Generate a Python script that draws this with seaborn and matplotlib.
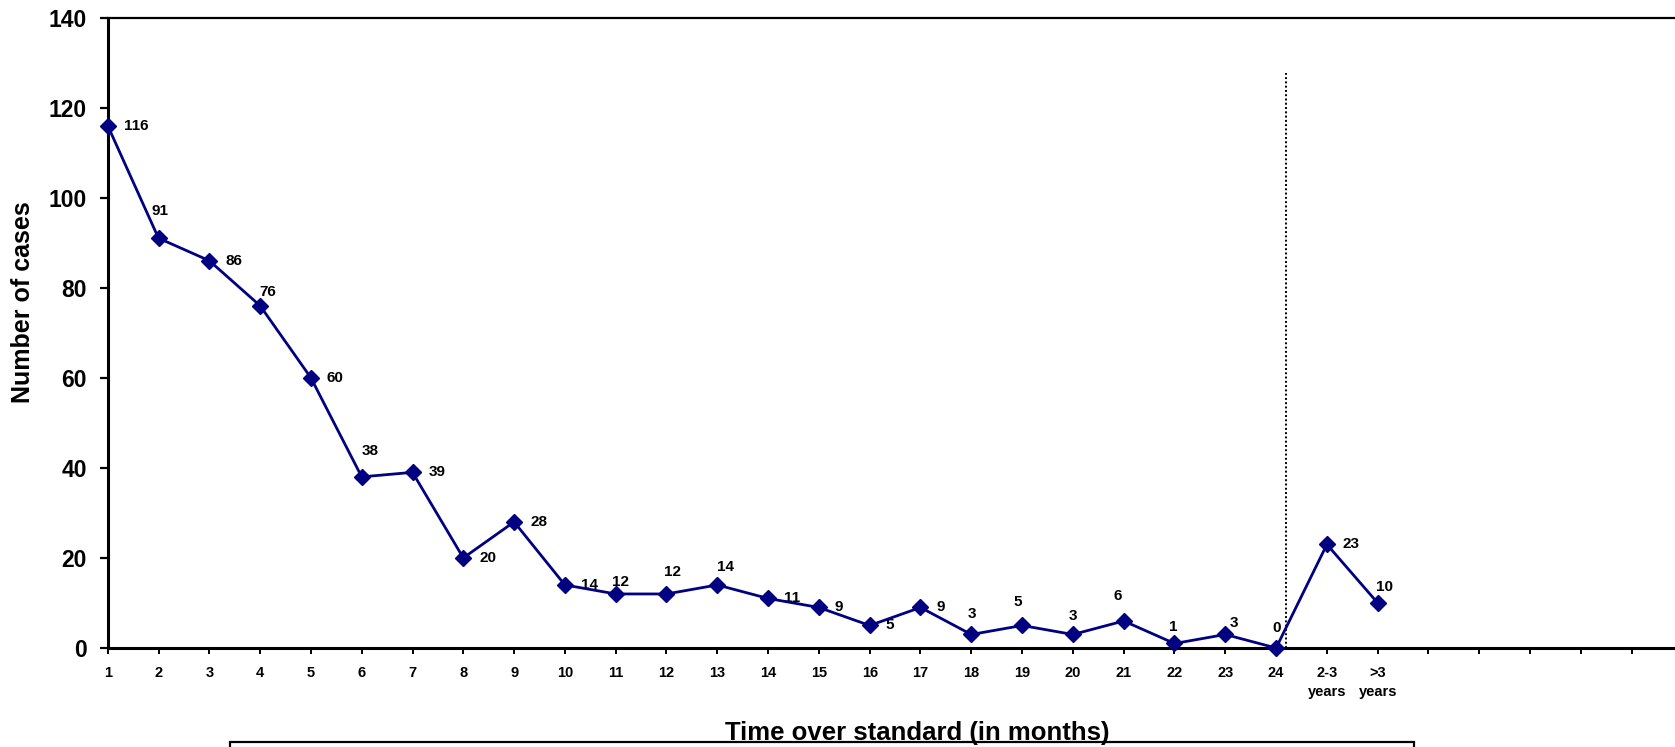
import numpy as np
import pandas as pd
import matplotlib
matplotlib.use("Agg")
import matplotlib.pyplot as plt
from matplotlib.patches import Rectangle
import seaborn as sns

# ---- data ----
categories = [str(i) for i in range(1, 25)] + ["2-3\nyears", ">3\nyears"]
cases = [116, 91, 86, 76, 60, 38, 39, 20, 28, 14, 12, 12, 14, 11, 9, 5, 9, 3, 5, 3, 6, 1, 3, 0, 23, 10]
y_ticks = [0, 20, 40, 60, 80, 100, 120, 140]
extra_empty_ticks = 6
divider_pos = 23.2      # dotted separator between "24" and "2-3 years"
divider_top = 127.7

# label placement (pixels): None -> right of marker, else (dx, dy) centred
label_offsets = [None, (1, 27), None, (8, 14), None, (8, 26), None, None, None, None,
                 (5, 12), (6, 22), (8, 18), None, None, None, None, (1, 20), (-4, 23),
                 (0, 18), (-6, 25), (-1, 16), (9, 11), (1, 20), None, (7, 16)]

sns.set_style("white")
plt.rcParams['font.family'] = ['Liberation Sans', 'DejaVu Sans']
plt.rcParams['font.weight'] = 'bold'
plt.rcParams['text.color'] = 'black'
plt.rcParams['axes.labelcolor'] = 'black'
plt.rcParams['xtick.color'] = 'black'
plt.rcParams['ytick.color'] = 'black'

W, H = 1675, 747
fig = plt.figure(figsize=(W / 100, H / 100), dpi=100)
left_px, bottom_px, top_px = 107.7, 648.0, 17.5
step_px = 50.8
n_slots = len(categories) + extra_empty_ticks
xmax = n_slots + 0.2
ax = fig.add_axes([left_px / W, (H - bottom_px) / H, xmax * step_px / W, (bottom_px - top_px) / H])

navy = "#000080"
df = pd.DataFrame({"pos": np.arange(len(cases)), "cases": cases})
sns.lineplot(data=df, x="pos", y="cases", ax=ax, color=navy, lw=2.0, marker="D",
             markersize=8.3, markeredgecolor=navy, markeredgewidth=1, zorder=5)
for ln in ax.lines:
    ln.set_clip_on(False)

ax.set_xlim(0, xmax)
ax.set_ylim(0, 140)
ax.set_yticks(y_ticks)
ax.set_yticklabels([str(v) for v in y_ticks], fontsize=16.5, fontweight='bold', color='black')
ax.set_xticks(np.arange(n_slots))
ax.set_xticklabels(categories + [""] * extra_empty_ticks, fontsize=10.5, fontweight='bold', color='black')
for t in ax.get_xticklabels():
    t.set_linespacing(1.45)
    t.set_multialignment('center')
ax.set_xlabel("")
ax.set_ylabel("")

ax.tick_params(axis='y', direction='out', length=6, width=1.6, pad=9, left=True, colors='black')
ax.tick_params(axis='x', direction='out', length=4, width=1.4, pad=9, bottom=True, colors='black')

for side in ['left', 'bottom']:
    ax.spines[side].set_linewidth(2.2)
    ax.spines[side].set_color('black')
ax.spines['top'].set_linewidth(1.6)
ax.spines['top'].set_color('black')
ax.spines['right'].set_visible(False)
ax.grid(False)

# dotted separator
ax.plot([divider_pos, divider_pos], [0, divider_top], color='black', lw=1.4,
        linestyle=(0, (1, 1.2)), zorder=3)

# data labels
for i, (v, off) in enumerate(zip(cases, label_offsets)):
    if off is None:
        ax.annotate(str(v), (i, v), xytext=(16, 0), textcoords='offset pixels',
                    ha='left', va='center', fontsize=11, fontweight='bold', color='black',
                    annotation_clip=False)
    else:
        ax.annotate(str(v), (i, v), xytext=(off[0], off[1]), textcoords='offset pixels',
                    ha='center', va='center', fontsize=11, fontweight='bold', color='black',
                    annotation_clip=False)

# axis titles
fig.text(23 / W, 1 - 302.5 / H, "Number of cases", rotation=90, ha='center', va='center',
         fontsize=18, fontweight='bold', color='black')
fig.text(917 / W, (H - 740) / H, "Time over standard (in months)", ha='center', va='baseline',
         fontsize=18.5, fontweight='bold', color='black')

# box at the bottom (partly cut off)
fig.patches.append(Rectangle((230 / W, -0.05), (1414 - 230) / W, (H - 742) / H + 0.05,
                             transform=fig.transFigure, fill=False, lw=1.6, edgecolor='black'))

fig.savefig("out.png", dpi=100)
